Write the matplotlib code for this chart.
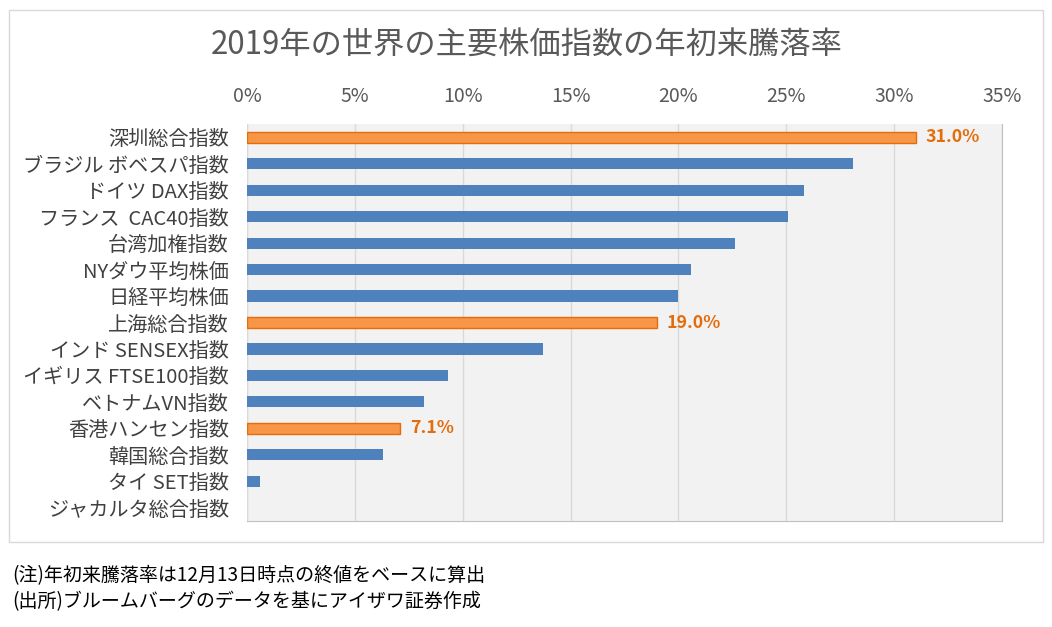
import matplotlib.pyplot as plt
from matplotlib.patches import Rectangle

plt.rcParams['font.family'] = ['Noto Sans CJK JP', 'DejaVu Sans']

# データ(年初来騰落率, %)
indices = [
    "深圳総合指数", "ブラジル ボベスパ指数", "ドイツ DAX指数", "フランス  CAC40指数",
    "台湾加権指数", "NYダウ平均株価", "日経平均株価", "上海総合指数",
    "インド SENSEX指数", "イギリス FTSE100指数", "ベトナムVN指数", "香港ハンセン指数",
    "韓国総合指数", "タイ SET指数", "ジャカルタ総合指数",
]
changes = [31.0, 28.1, 25.8, 25.1, 22.6, 20.6, 20.0, 19.0,
           13.7, 9.3, 8.2, 7.1, 6.3, 0.6, 0.0]
highlight = ["深圳総合指数", "上海総合指数", "香港ハンセン指数"]
xticks = [0, 5, 10, 15, 20, 25, 30, 35]

title = "2019年の世界の主要株価指数の年初来騰落率"
notes = ["(注)年初来騰落率は12月13日時点の終値をベースに算出",
         "(出所)ブルームバーグのデータを基にアイザワ証券作成"]

W, H = 1052, 627
fig = plt.figure(figsize=(W / 100, H / 100), dpi=100)

# 外枠
fig.patches.append(Rectangle((9 / W, 1 - 542 / H), 1034 / W, 532 / H,
                             transform=fig.transFigure, fill=False,
                             edgecolor="#d9d9d9", linewidth=1))

ax = fig.add_axes([247 / W, 1 - 521 / H, 755 / W, 397 / H])
ax.set_facecolor("#f2f2f2")

ypos = list(range(len(indices)))
for y, name, v in zip(ypos, indices, changes):
    if name in highlight:
        ax.barh(y, v, height=0.42, color="#f79646", edgecolor="#e46c0a", linewidth=1, zorder=3)
        ax.text(v + 0.45, y, f"{v:.1f}%", va="center", ha="left", fontsize=12.8,
                fontweight="bold", color="#e46c0a", zorder=4)
    else:
        ax.barh(y, v, height=0.42, color="#4f81bd", zorder=3)

ax.set_ylim(len(indices) - 0.5, -0.5)
ax.set_yticks(ypos)
ax.set_yticklabels(indices, fontsize=14.5, color="#404040")
ax.set_xlim(0, 35)
ax.set_xticks(xticks)
ax.set_xticklabels([f"{t}%" for t in xticks], fontsize=14, color="#595959")
ax.xaxis.tick_top()
ax.tick_params(axis="x", length=0, pad=12)
ax.tick_params(axis="y", length=0, pad=13)
ax.grid(axis="x", color="#d9d9d9", linewidth=1, zorder=0)
ax.set_axisbelow(True)
for s in ["top", "left"]:
    ax.spines[s].set_visible(False)
for s in ["right", "bottom"]:
    ax.spines[s].set_color("#bfbfbf")
ax.axvline(0, color="#d9d9d9", linewidth=1, zorder=2)

fig.text(527 / W, 1 - 46 / H, title, ha="center", va="center", fontsize=22.5, color="#595959")
fig.text(12 / W, 1 - 576 / H, notes[0], ha="left", va="center", fontsize=13.7, color="black")
fig.text(12 / W, 1 - 602 / H, notes[1], ha="left", va="center", fontsize=13.7, color="black")

fig.savefig("out.png", dpi=100)
